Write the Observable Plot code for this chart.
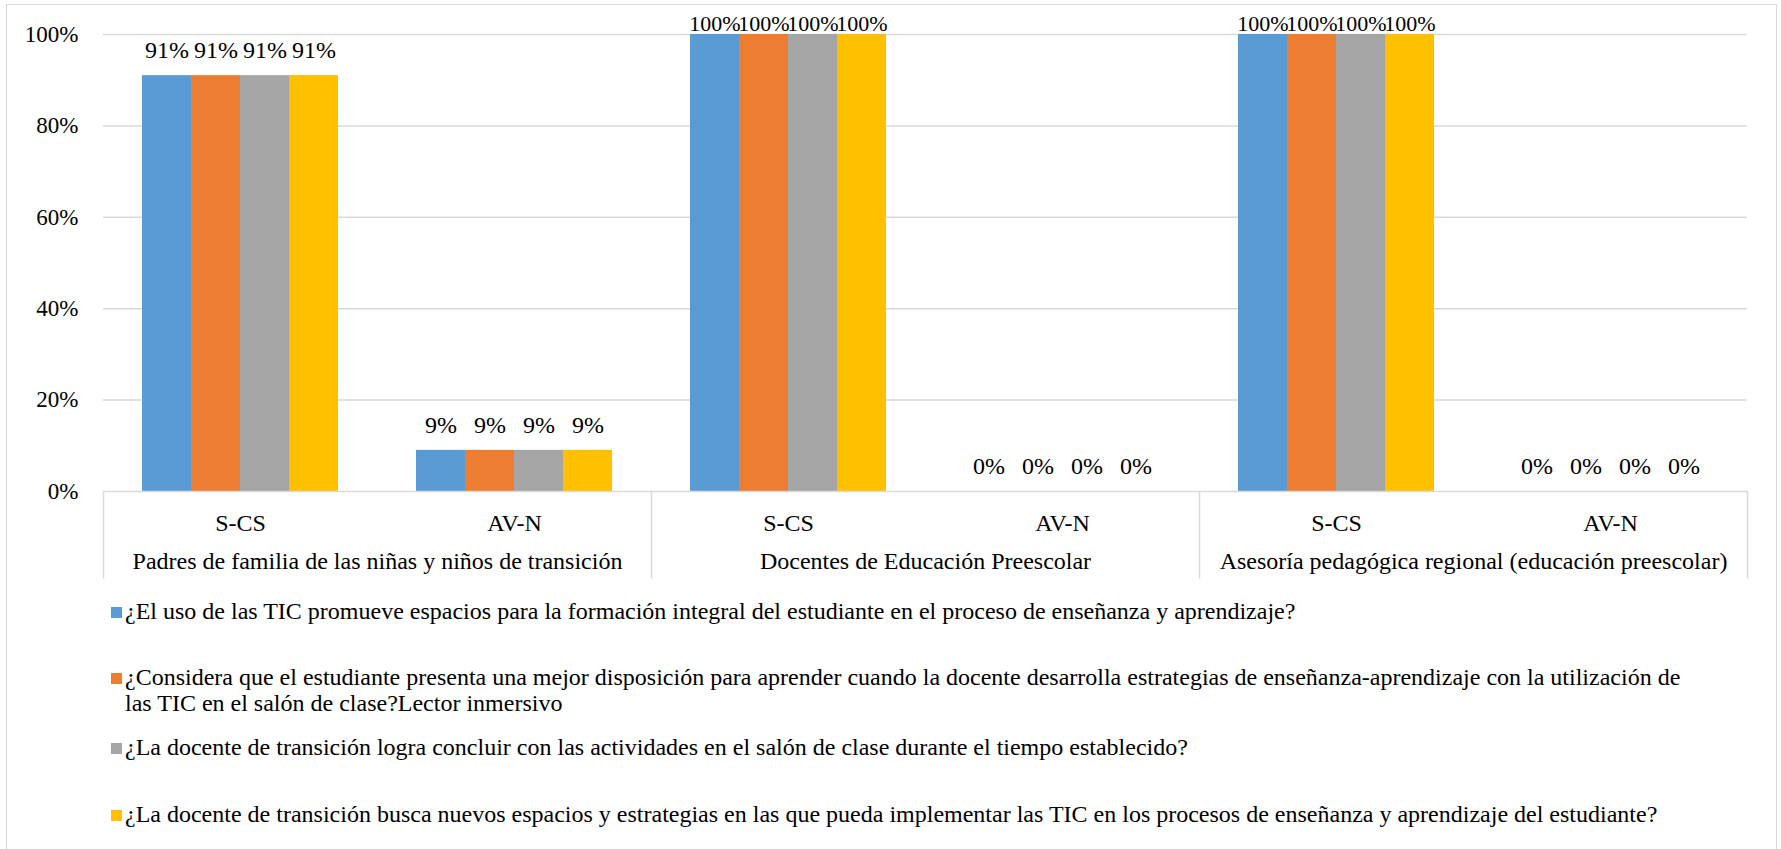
<!DOCTYPE html>
<html>
<head>
<meta charset="utf-8">
<script src="https://cdn.jsdelivr.net/npm/d3@7"></script>
<script src="https://cdn.jsdelivr.net/npm/@observablehq/plot@0.6"></script>
<style>
  html, body { margin: 0; padding: 0; background: #fff; }
  body { width: 1781px; height: 849px; position: relative; overflow: hidden; font-family: "Liberation Serif", "DejaVu Serif", serif; color: #000; }
  #border { position: absolute; left: 6px; top: 4px; width: 1771px; height: 860px; border: 1px solid #d9d9d9; box-sizing: border-box; }
  #chart { position: absolute; left: 0; top: 0; }
  .item { position: absolute; left: 111px; font-size: 24px; line-height: 26px; }
  .sw { position: absolute; left: 0; top: 9px; width: 11px; height: 11px; }
  .txt { position: absolute; left: 14px; width: 1568px; }
</style>
</head>
<body>
<div id="border"></div>
<div id="chart"></div>
<div id="legend"></div>
<script>
const groups = [
  "Padres de familia de las niñas y niños de transición",
  "Docentes de Educación Preescolar",
  "Asesoría pedagógica regional (educación preescolar)"
];
const categories = ["S-CS", "AV-N"];
const series = [
  "¿El uso de las TIC promueve espacios para la formación integral del estudiante en el proceso de enseñanza y aprendizaje?",
  "¿Considera que el estudiante presenta una mejor disposición para aprender cuando la docente desarrolla estrategias de enseñanza-aprendizaje con la utilización de las TIC en el salón de clase?Lector inmersivo",
  "¿La docente de transición logra concluir con las actividades en el salón de clase durante el tiempo establecido?",
  "¿La docente de transición busca nuevos espacios y estrategias en las que pueda implementar las TIC en los procesos de enseñanza y aprendizaje del estudiante?"
];
const colors = ["#5B9BD5", "#ED7D31", "#A5A5A5", "#FFC000"];
// values per series, ordered: group1 S-CS, group1 AV-N, group2 S-CS, group2 AV-N, group3 S-CS, group3 AV-N
const serie1 = [0.91, 0.09, 1.00, 0.00, 1.00, 0.00];
const serie2 = [0.91, 0.09, 1.00, 0.00, 1.00, 0.00];
const serie3 = [0.91, 0.09, 1.00, 0.00, 1.00, 0.00];
const serie4 = [0.91, 0.09, 1.00, 0.00, 1.00, 0.00];
const yTicks = [0, 0.2, 0.4, 0.6, 0.8, 1.0];

const seriesValues = [serie1, serie2, serie3, serie4];
const keys = [];
groups.forEach(g => categories.forEach(c => keys.push(g + "|" + c)));
const data = [];
keys.forEach((k, i) => {
  const [group, cat] = k.split("|");
  series.forEach((s, si) => data.push({key: k, group, cat, series: s, value: seriesValues[si][i]}));
});
const groupData = groups.map(g => ({group: g, key: g + "|" + categories[0]}));
const FONT = "'Liberation Serif', 'DejaVu Serif', serif";

const chart = Plot.plot({
  width: 1781,
  height: 590,
  marginTop: 34,
  marginBottom: 99,
  marginLeft: 102,
  marginRight: 34,
  style: {fontFamily: FONT, fontSize: "24px", color: "#000", background: "transparent", overflow: "visible"},
  fx: {domain: keys, padding: 0, axis: null},
  x: {domain: series, paddingInner: 0, paddingOuter: 0.74, axis: null},
  y: {domain: [0, 1], axis: null},
  color: {domain: series, range: colors},
  marks: [
    Plot.gridY(yTicks.filter(d => d > 0), {stroke: "#d9d9d9", strokeOpacity: 1, strokeWidth: 1.5}),
    Plot.axisY(yTicks, {tickSize: 0, tickPadding: 25, tickFormat: d3.format(".0%"), fontSize: 23, label: null}),
    Plot.barY(data, {fx: "key", x: "series", y: "value", fill: "series"}),
    Plot.ruleY([0], {stroke: "#d9d9d9", strokeWidth: 1.5}),
    Plot.text(data.filter(d => d.value < 1), {fx: "key", x: "series", y: "value", text: d => d3.format(".0%")(d.value), dy: -25, lineAnchor: "middle", fontSize: 24, fill: "#000"}),
    Plot.text(data.filter(d => d.value >= 1), {fx: "key", x: "series", y: "value", text: d => d3.format(".0%")(d.value), dy: -11, lineAnchor: "middle", fontSize: 22, fill: "#000"}),
    Plot.axisFx({anchor: "bottom", tickSize: 0, tickPadding: 22, tickFormat: k => k.split("|")[1], fontSize: 24, label: null}),
    Plot.text(groupData, {fx: "key", text: "group", frameAnchor: "bottom-right", textAnchor: "middle", lineAnchor: "middle", dy: 70, fontSize: 24, fill: "#000"}),
    ...groups.map(g => Plot.frame({anchor: "left", stroke: "#d9d9d9", strokeWidth: 1.5, insetTop: 457, insetBottom: -86, fx: () => g + "|" + categories[0]})),
    Plot.frame({anchor: "right", stroke: "#d9d9d9", strokeWidth: 1.5, insetTop: 457, insetBottom: -86, fx: () => keys[keys.length - 1]})
  ]
});
document.getElementById("chart").appendChild(chart);

const legendTops = [598, 664, 734, 801];
const legend = document.getElementById("legend");
series.forEach((s, i) => {
  const item = document.createElement("div");
  item.className = "item";
  item.style.top = legendTops[i] + "px";
  const sw = document.createElement("div");
  sw.className = "sw";
  sw.style.background = colors[i];
  const t = document.createElement("div");
  t.className = "txt";
  t.textContent = s;
  item.appendChild(sw);
  item.appendChild(t);
  legend.appendChild(item);
});
</script>
</body>
</html>
